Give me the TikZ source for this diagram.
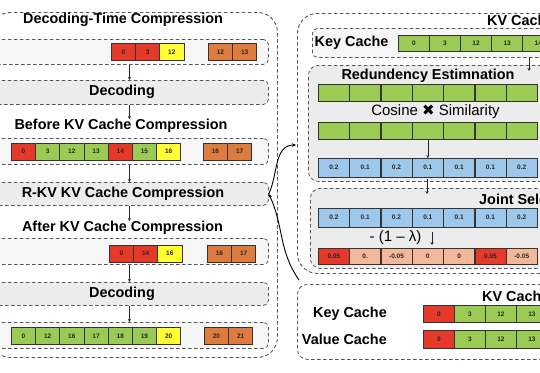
\documentclass[tikz,border=0pt]{standalone}
\usepackage{fontspec}
\setmainfont{Liberation Sans}
\newfontfamily\symfont{DejaVu Sans}
\usetikzlibrary{arrows.meta}
\definecolor{cr}{HTML}{E53A2A}
\definecolor{cg}{HTML}{9BCB55}
\definecolor{cy}{HTML}{FFFF33}
\definecolor{co}{HTML}{DE7B3E}
\definecolor{cb}{HTML}{9DC8EC}
\definecolor{cs}{HTML}{F2B899}
\definecolor{dline}{HTML}{555555}
\definecolor{pfill}{HTML}{ECECEC}
\definecolor{rfill}{HTML}{F6F6F6}
\begin{document}
\begin{tikzpicture}[x=1pt,y=-1pt,
  box/.style={draw=dline, dash pattern=on 3.5pt off 2.5pt, line width=0.8pt, rounded corners=5pt, inner sep=0pt, anchor=north west},
  outerbox/.style={box, rounded corners=20pt, line width=0.9pt},
  ttl/.style={font=\fontsize{14.4}{16}\selectfont\bfseries, inner sep=0pt},
  reg/.style={font=\fontsize{15}{17}\selectfont, inner sep=0pt},
  cell/.style={draw=black!80, line width=0.7pt, inner sep=0pt, anchor=north west, font=\fontsize{6.5}{7}\selectfont\bfseries, text=black!85},
  lcell/.style={cell, minimum width=24.2pt, minimum height=17pt},
  rcell/.style={cell, minimum width=31.1pt, minimum height=17pt},
  flow/.style={-{Stealth[length=3pt,width=3pt]}, line width=0.6pt, black!85},
  link/.style={line width=0.9pt, black}
]
\useasboundingbox (0,0) rectangle (540,372);
\clip (0,0) rectangle (540,372);

% ---------------- left panel ----------------
\node[outerbox, minimum width=287pt, minimum height=345pt] (lout) at (-10,12) {};
\node[ttl] (t1) at (123,20) {Decoding-Time Compression};

\node[box, fill=rfill, minimum width=278pt, minimum height=25pt] (row1) at (-10,39) {};
\foreach \v/\c [count=\i] in {0/cr,3/cr,12/cy}
  \node[lcell, fill=\c] (a\i) at ({111+24.2*(\i-1)},43) {\v};
\foreach \v [count=\i] in {12,13}
  \node[lcell, fill=co] (ao\i) at ({208+24.2*(\i-1)},43) {\v};

\node[box, fill=pfill, minimum width=278pt, minimum height=24pt] (dec1) at (-10,80) {};
\node[ttl] (dec1t) at (122,92) {Decoding};

\node[ttl] (before) at (121,126) {Before KV Cache Compression};
\node[box, fill=rfill, minimum width=278pt, minimum height=26pt] (row2) at (-10,138) {};
\foreach \v/\c [count=\i] in {0/cr,3/cg,12/cg,13/cg,14/cr,15/cg,16/cy}
  \node[lcell, fill=\c] (b\i) at ({11+24.2*(\i-1)},142.5) {\v};
\foreach \v [count=\i] in {16,17}
  \node[lcell, fill=co] (bo\i) at ({203+24.2*(\i-1)},142.5) {\v};

\node[box, fill=pfill, minimum width=278pt, minimum height=23pt] (rkv) at (-10,182) {};
\node[ttl] (rkvt) at (123,193.5) {R-KV KV Cache Compression};

\node[ttl] (after) at (122.5,228) {After KV Cache Compression};
\node[box, fill=rfill, minimum width=278pt, minimum height=26pt] (row3) at (-10,238) {};
\foreach \v/\c [count=\i] in {0/cr,14/cr,16/cy}
  \node[lcell, fill=\c] (c\i) at ({109+24.2*(\i-1)},244.5) {\v};
\foreach \v [count=\i] in {16,17}
  \node[lcell, fill=co] (co\i) at ({207+24.2*(\i-1)},244.5) {\v};

\node[box, fill=pfill, minimum width=278pt, minimum height=23pt] (dec2) at (-10,282) {};
\node[ttl] (dec2t) at (122,294) {Decoding};

\node[box, fill=rfill, minimum width=278pt, minimum height=26pt] (row4) at (-10,322) {};
\foreach \v/\c [count=\i] in {0/cg,12/cg,16/cg,17/cg,18/cg,19/cg,20/cy}
  \node[lcell, fill=\c] (d\i) at ({11+24.2*(\i-1)},327) {\v};
\foreach \v [count=\i] in {20,21}
  \node[lcell, fill=co] (do\i) at ({204+24.2*(\i-1)},327) {\v};

\draw[flow] (row1.south) -- (dec1.north);
\draw[flow] (dec1.south) -- (dec1.south |- before.north);
\draw[flow] (row2.south) -- (rkv.north);
\draw[flow] (rkv.south) -- (rkv.south |- after.north);
\draw[flow] (row3.south) -- (dec2.north);
\draw[flow] (dec2.south) -- (row4.north);

% ---------------- right panel ----------------
\node[outerbox, minimum width=270pt, minimum height=260pt] (rout) at (297,13) {};
\node[ttl, anchor=west] (kvt) at (487,20) {KV Cache};

\node[box, fill=rfill, minimum width=250pt, minimum height=29pt] (kbox) at (312,28) {};
\node[ttl, anchor=west] (kct) at (314.5,42.5) {Key Cache};
\foreach \v [count=\i] in {0,3,12,13,14}
  \node[rcell, fill=cg, minimum height=16pt] (k\i) at ({398+31.1*(\i-1)},35) {\v};

\node[box, fill=pfill, rounded corners=10pt, minimum width=255pt, minimum height=116pt] (red) at (308,65) {};
\node[ttl] (redt) at (428,76) {Redundency Estimnation};
\foreach \i in {1,...,7}
  \node[rcell, fill=cg, minimum height=16.5pt] (g\i) at ({318+31.3*(\i-1)},84) {};
\node[reg] (cos) at (435.5,112) {Cosine {\symfont\fontsize{15}{17}\selectfont ✖} Similarity};
\foreach \i in {1,...,7}
  \node[rcell, fill=cg, minimum height=16.5pt] (h\i) at ({318+31.3*(\i-1)},122) {};
\foreach \v [count=\i] in {0.2,0.1,0.2,0.1,0.1,0.1,0.2}
  \node[rcell, fill=cb, minimum height=18.5pt] (s\i) at ({318+31.3*(\i-1)},158) {\v};

\node[box, fill=pfill, rounded corners=10pt, minimum width=255pt, minimum height=80pt] (joint) at (310,188) {};
\node[ttl, anchor=west] (jt) at (479,199) {Joint Selection};
\foreach \v [count=\i] in {0.2,0.1,0.2,0.1,0.1,0.1,0.2}
  \node[rcell, fill=cb, minimum height=19pt] (u\i) at ({318+31.3*(\i-1)},207.5) {\v};
\node[reg] (lam) at (395.5,238) {- (1 – λ)};
\foreach \v/\c [count=\i] in {0.05/cr,0./cs,-0.05/cs,0/cs,0/cs,0.05/cr,-0.05/cs}
  \node[rcell, fill=\c, minimum height=15.5pt] (w\i) at ({318+31.3*(\i-1)},248) {\v};

\coordinate (karrtop) at (529,57);
\coordinate (karrbot) at (529,71);
\coordinate (jarrtop) at (427,179);
\coordinate (jarrbot) at (427,194);
\coordinate (lamtop) at (432,232);
\coordinate (lambot) at (432,245);
\draw[flow] (karrtop) -- (karrbot);
\draw[flow] (h4.south) -- (h4.south |- s4.north);
\draw[flow] (jarrtop) -- (jarrbot);
\draw[flow] (lamtop) -- (lambot);

\node[box, fill=white, rounded corners=10pt, minimum width=260pt, minimum height=75pt] (kvbox) at (297,284) {};
\node[ttl, anchor=west] (kvt2) at (482,296) {KV Cache};
\node[ttl, anchor=east] (kc2) at (387,313.5) {Key Cache};
\node[ttl, anchor=east] (vc2) at (387,339) {Value Cache};
\foreach \v/\c [count=\i] in {0/cr,3/cg,12/cg,13/cg}
  \node[rcell, fill=\c] (x\i) at ({423+31*(\i-1)},305) {\v};
\foreach \v/\c [count=\i] in {0/cr,3/cg,12/cg,13/cg}
  \node[rcell, fill=\c, minimum height=18pt] (y\i) at ({423+31*(\i-1)},330) {\v};

% ---------------- connectors ----------------
\coordinate (upend) at (296,145);
\coordinate (loend) at (299,280);
\draw[link, -{Stealth[length=4pt,width=3.5pt]}] (rkv.east) to[out=65,in=180] (upend);
\draw[link, -{Stealth[length=4pt,width=3.5pt]}] (loend) to[out=125,in=-65] (rkv.east);
\end{tikzpicture}
\end{document}
